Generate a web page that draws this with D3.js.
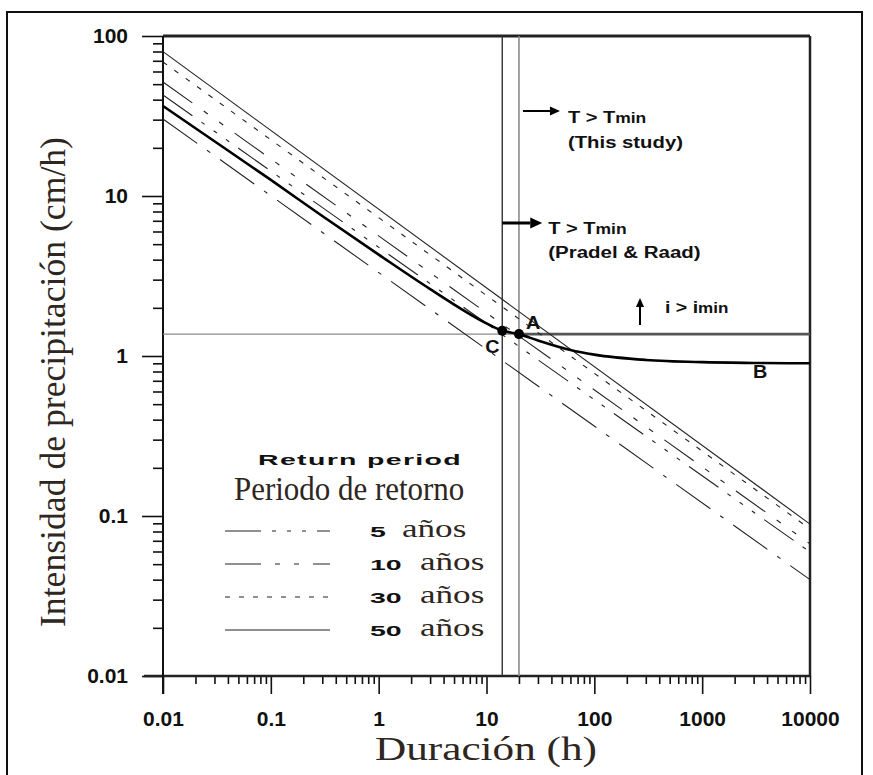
<!DOCTYPE html>
<html>
<head>
<meta charset="utf-8">
<script src="https://cdn.jsdelivr.net/npm/d3@7"></script>
<style>
  body { margin: 0; background: #fff; }
  .sans { font-family: "Liberation Sans", Arial, sans-serif; font-weight: bold; fill: #111; }
  .serif { font-family: "Liberation Serif", "Times New Roman", serif; fill: #2e2620; }
</style>
</head>
<body>
<div id="chart"></div>
<script>
// end points of the return-period lines (straight on log-log)
var edgeDurations = [0.01, 10000];
var intensity50 = [79.8, 0.089];
var intensity30 = [68.8, 0.083];
var intensity10 = [51.6, 0.067];
var intensity5 = [42.8, 0.0596];
var intensityLow = [30.3, 0.040];   // fifth line, no legend entry in the figure

// thick curve (through C and A, flattening to B)
var curveDurations = [0.01, 0.03, 0.1, 0.3, 1, 3, 10, 14, 20, 30, 60, 100, 300, 1000, 3000, 10000];
var curveIntensity = [36.5, 22.0, 12.6, 7.5, 4.3, 2.62, 1.6, 1.44, 1.37, 1.25, 1.09, 1.02, 0.945, 0.915, 0.905, 0.9];

var tminPradel = 14;
var tminThisStudy = 20;
var iMin = 1.37;
var pointC = [14, 1.44];
var pointA = [20, 1.37];
var labelB = [3300, 0.9];

var xTicks = [0.01, 0.1, 1, 10, 100, 1000, 10000];
var xTickLabels = ["0.01", "0.1", "1", "10", "100", "1000", "10000"];
var yTicks = [0.01, 0.1, 1, 10, 100];
var yTickLabels = ["0.01", "0.1", "1", "10", "100"];

var legendYears = ["5", "10", "30", "50"];

var margin = { top: 36, right: 63, bottom: 99, left: 163 },
    width = 873 - margin.left - margin.right,
    height = 775 - margin.top - margin.bottom;

var svg = d3.select("#chart")
    .append("svg")
    .attr("width", 873)
    .attr("height", 775);

// outer frame of the figure
svg.append("rect")
    .attr("x", 7).attr("y", 12)
    .attr("width", 855).attr("height", 790)
    .attr("fill", "none")
    .attr("stroke", "#111")
    .attr("stroke-width", 2);

var g = svg.append("g")
    .attr("transform", "translate(" + margin.left + "," + margin.top + ")");

var x = d3.scaleLog().domain([0.01, 10000]).range([0, width]);
var y = d3.scaleLog().domain([0.01, 100]).range([height, 0]);

function isMajor(v) {
    var l = Math.log10(v);
    return Math.abs(l - Math.round(l)) < 1e-6;
}
var xMinor = x.ticks().filter(function (v) { return !isMajor(v); });
var yMinor = y.ticks().filter(function (v) { return !isMajor(v); });

// axes
var xMinorAxis = g.append("g")
    .attr("transform", "translate(0," + height + ")")
    .call(d3.axisBottom(x).tickValues(xMinor).tickSize(8).tickFormat(""));
var xMajorAxis = g.append("g")
    .attr("transform", "translate(0," + height + ")")
    .call(d3.axisBottom(x).tickValues(xTicks).tickSize(18).tickPadding(17)
        .tickFormat(function (d, i) { return xTickLabels[i]; }));
var yMinorAxis = g.append("g")
    .call(d3.axisLeft(y).tickValues(yMinor).tickSize(10).tickFormat(""));
var yMajorAxis = g.append("g")
    .call(d3.axisLeft(y).tickValues(yTicks).tickSize(21).tickPadding(14)
        .tickFormat(function (d, i) { return yTickLabels[i]; }));

[xMinorAxis, xMajorAxis, yMinorAxis, yMajorAxis].forEach(function (a) {
    a.select(".domain").remove();
    a.selectAll("line").attr("stroke", "#111").attr("stroke-width", 1.6);
    a.selectAll("text")
        .attr("class", "sans")
        .attr("fill", "#111")
        .style("font-size", "21px");
});

// plot frame
g.append("line").attr("x1", 0).attr("x2", width).attr("y1", 0).attr("y2", 0)
    .attr("stroke", "#222").attr("stroke-width", 3);
g.append("line").attr("x1", width).attr("x2", width).attr("y1", 0).attr("y2", height)
    .attr("stroke", "#222").attr("stroke-width", 2.5);
g.append("line").attr("x1", -19).attr("x2", width).attr("y1", height).attr("y2", height)
    .attr("stroke", "#222").attr("stroke-width", 2.5);
g.append("line").attr("x1", 0).attr("x2", 0).attr("y1", 0).attr("y2", height + 18)
    .attr("stroke", "#111").attr("stroke-width", 2);

// limit lines
g.append("line")
    .attr("x1", x(tminPradel)).attr("x2", x(tminPradel))
    .attr("y1", 0).attr("y2", height)
    .attr("stroke", "#333").attr("stroke-width", 1.4);
g.append("line")
    .attr("x1", x(tminThisStudy)).attr("x2", x(tminThisStudy))
    .attr("y1", 0).attr("y2", height)
    .attr("stroke", "#8a8a8a").attr("stroke-width", 1.6);
g.append("line")
    .attr("x1", 0).attr("x2", x(tminThisStudy))
    .attr("y1", y(iMin)).attr("y2", y(iMin))
    .attr("stroke", "#8a8a8a").attr("stroke-width", 1.3);
g.append("line")
    .attr("x1", x(tminThisStudy)).attr("x2", width)
    .attr("y1", y(iMin)).attr("y2", y(iMin))
    .attr("stroke", "#555").attr("stroke-width", 2.6);

// return period lines
var series = [
    { values: intensity50, dash: null },
    { values: intensity30, dash: "5,9" },
    { values: intensity10, dash: "36,14,5,14,5,14" },
    { values: intensity5, dash: "36,11,4,11,4,11,4,11" },
    { values: intensityLow, dash: "42,12,4,12" }
];

var periodLine = d3.line()
    .x(function (d) { return x(d[0]); })
    .y(function (d) { return y(d[1]); });

series.forEach(function (s) {
    var pts = edgeDurations.map(function (t, i) { return [t, s.values[i]]; });
    g.append("path")
        .datum(pts)
        .attr("fill", "none")
        .attr("stroke", "#222")
        .attr("stroke-width", 1.1)
        .attr("stroke-dasharray", s.dash)
        .attr("d", periodLine);
});

// thick curve
var curvePts = curveDurations.map(function (t, i) { return [t, curveIntensity[i]]; });
g.append("path")
    .datum(curvePts)
    .attr("fill", "none")
    .attr("stroke", "#000")
    .attr("stroke-width", 2.6)
    .attr("d", d3.line()
        .curve(d3.curveMonotoneX)
        .x(function (d) { return x(d[0]); })
        .y(function (d) { return y(d[1]); }));

// points C and A
[pointC, pointA].forEach(function (p) {
    g.append("circle")
        .attr("cx", x(p[0])).attr("cy", y(p[1]))
        .attr("r", 5).attr("fill", "#000");
});

function addText(parent, px, py, sx, str, cls, size) {
    return parent.append("text")
        .attr("class", cls)
        .attr("transform", "translate(" + px + "," + py + ") scale(" + sx + ",1)")
        .style("font-size", size + "px")
        .text(str);
}

addText(g, x(pointA[0]) + 7, y(pointA[1]) - 5, 1.1, "A", "sans", 18);
addText(g, x(pointC[0]) - 17, y(pointC[1]) + 22, 1.1, "C", "sans", 18);
addText(g, x(labelB[0]) - 5, y(labelB[1]) + 15, 1.1, "B", "sans", 18);

// arrows
function arrow(x1, y1, x2, y2, w, head) {
    var ang = Math.atan2(y2 - y1, x2 - x1);
    g.append("line")
        .attr("x1", x1).attr("y1", y1)
        .attr("x2", x2 - Math.cos(ang) * head).attr("y2", y2 - Math.sin(ang) * head)
        .attr("stroke", "#000").attr("stroke-width", w);
    var bx = x2 - Math.cos(ang) * head, by = y2 - Math.sin(ang) * head;
    var hw = head * 0.45;
    g.append("path")
        .attr("d", "M" + x2 + "," + y2 +
            "L" + (bx - Math.sin(ang) * hw) + "," + (by + Math.cos(ang) * hw) +
            "L" + (bx + Math.sin(ang) * hw) + "," + (by - Math.cos(ang) * hw) + "Z")
        .attr("fill", "#000");
}

var xs = x(tminThisStudy), xp = x(tminPradel);
arrow(xs + 4, 75, xs + 41, 75, 2, 10);
arrow(xp, 187, xp + 40, 187, 3, 12);
arrow(477, 289, 477, 262, 2, 9);

var t1 = addText(g, xs + 49, 87, 1.25, "T > T", "sans", 16);
t1.append("tspan").style("font-size", "14px").text("min");
addText(g, xs + 49, 112, 1.27, "(This study)", "sans", 16);
var t2 = addText(g, xp + 46, 198, 1.25, "T > T", "sans", 16);
t2.append("tspan").style("font-size", "14px").text("min");
addText(g, xp + 46, 222, 1.28, "(Pradel & Raad)", "sans", 16);
var t3 = addText(g, 502, 277, 1.22, "i > i", "sans", 16);
t3.append("tspan").style("font-size", "14px").text("min");

// legend
addText(svg, 258, 465, 1.9, "Return period", "sans", 15)
    .style("letter-spacing", "0.7px");
addText(svg, 234, 500, 0.91, "Periodo de retorno", "serif", 34);

var legendRowY = [531, 564, 597, 630];
var legendAnosX = [402, 420, 420, 420];
var legendDash = [series[3].dash, series[2].dash, series[1].dash, series[0].dash];
legendYears.forEach(function (yr, i) {
    svg.append("line")
        .attr("x1", 225).attr("x2", 330)
        .attr("y1", legendRowY[i]).attr("y2", legendRowY[i])
        .attr("stroke", "#222").attr("stroke-width", 1.2)
        .attr("stroke-dasharray", legendDash[i]);
    addText(svg, 370, legendRowY[i] + 6, 1.9, yr, "sans", 15);
    addText(svg, legendAnosX[i], legendRowY[i] + 6, 1.35, "años", "serif", 26);
});

// axis titles
svg.append("text")
    .attr("class", "serif")
    .attr("x", 375).attr("y", 760)
    .attr("textLength", 222)
    .attr("lengthAdjust", "spacingAndGlyphs")
    .style("font-size", "33px")
    .text("Duración (h)");

svg.append("text")
    .attr("class", "serif")
    .attr("transform", "translate(65,627) rotate(-90)")
    .attr("textLength", 490)
    .attr("lengthAdjust", "spacingAndGlyphs")
    .style("font-size", "36px")
    .text("Intensidad de precipitación (cm/h)");
</script>
</body>
</html>
